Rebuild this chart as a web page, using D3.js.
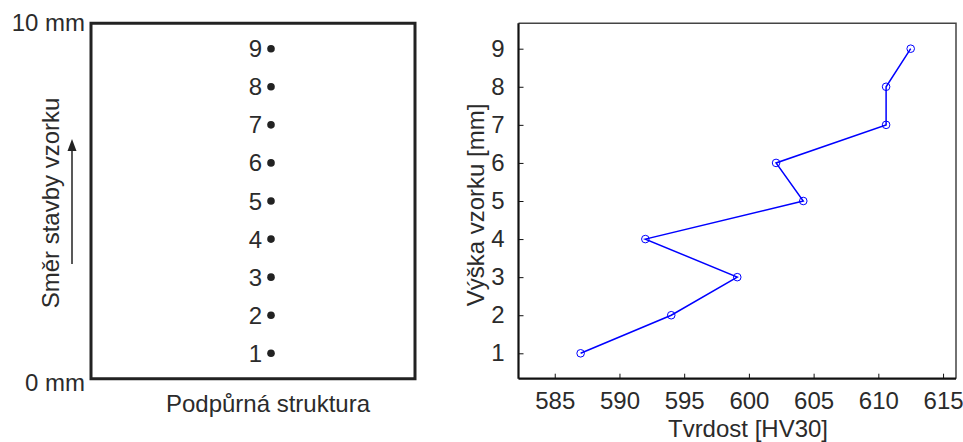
<!DOCTYPE html>
<html>
<head>
<meta charset="utf-8">
<script src="https://cdn.jsdelivr.net/npm/d3@7"></script>
<style>
  body { margin: 0; background: #fff; }
  text { font-family: "Liberation Sans", Arial, sans-serif; fill: #2b2b2b; }
</style>
</head>
<body>
<svg id="chart" width="963" height="442"></svg>
<script>
// measurement positions (mm) and hardness values
const positions = [1, 2, 3, 4, 5, 6, 7, 8, 9]
const hardness = [587, 594, 599.1, 592, 604.2, 602.1, 610.6, 610.6, 612.5]
const xTicks = [585, 590, 595, 600, 605, 610, 615]
const yTicks = [1, 2, 3, 4, 5, 6, 7, 8, 9]

const svg = d3.select('#chart')
const boxTop = 23.3, boxBottom = 378.7
const fs = '24px'

// shared vertical scale
const y = d3.scaleLinear().domain([0.333, 9.667]).range([boxBottom, boxTop])

// ---- left panel: sample sketch ----
const left = svg.append('g')
const boxL = 91, boxR = 415
left.append('path')
  .attr('d', `M${boxL},${boxBottom}V${boxTop}H${boxR}V${boxBottom}Z`)
  .attr('fill', 'none')
  .attr('stroke', '#222')
  .attr('stroke-width', 3)

left.append('text').attr('x', 85).attr('y', boxTop + 8)
  .attr('text-anchor', 'end').style('font-size', fs).text('10 mm')
left.append('text').attr('x', 85).attr('y', boxBottom + 12)
  .attr('text-anchor', 'end').style('font-size', fs).text('0 mm')

const dotX = 271
left.selectAll('circle.pt').data(positions).enter()
  .append('circle')
  .attr('class', 'pt')
  .attr('cx', dotX)
  .attr('cy', d => y(d))
  .attr('r', 3.8)
  .attr('fill', '#222')
left.selectAll('text.pt').data(positions).enter()
  .append('text')
  .attr('class', 'pt')
  .attr('x', dotX - 9)
  .attr('y', d => y(d) + 8.5)
  .attr('text-anchor', 'end')
  .style('font-size', fs)
  .text(d => d)

left.append('text')
  .attr('transform', `translate(59,203) rotate(-90)`)
  .attr('text-anchor', 'middle')
  .style('font-size', fs)
  .text('Směr stavby vzorku')

// arrow
left.append('line')
  .attr('x1', 72).attr('x2', 72).attr('y1', 264).attr('y2', 146)
  .attr('stroke', '#222').attr('stroke-width', 1.5)
left.append('path')
  .attr('d', 'M72,139L67.5,151L76.5,151Z')
  .attr('fill', '#222')

left.append('text').attr('x', 268).attr('y', 412)
  .attr('text-anchor', 'middle').style('font-size', fs).text('Podpůrná struktura')

// ---- right panel: hardness profile ----
const plotL = 518.5, plotR = 956
const x = d3.scaleLinear().domain([582.2, 616]).range([plotL, plotR])
const right = svg.append('g')

// frame (top/right)
right.append('path')
  .attr('d', `M${plotL},${boxTop}H${plotR}V${boxBottom}`)
  .attr('fill', 'none').attr('stroke', '#444').attr('stroke-width', 1.5)

const xAxis = d3.axisBottom(x).tickValues(xTicks).tickSize(-5).tickPadding(13).tickFormat(d3.format('d'))
const gx = right.append('g').attr('transform', `translate(0,${boxBottom})`).call(xAxis)
const yAxis = d3.axisLeft(y).tickValues(yTicks).tickSize(-5).tickPadding(14).tickFormat(d3.format('d'))
const gy = right.append('g').attr('transform', `translate(${plotL},0)`).call(yAxis)

for (const g of [gx, gy]) {
  g.select('.domain').attr('stroke', '#111').attr('stroke-width', 2.2)
  g.selectAll('.tick line').attr('stroke', '#111').attr('stroke-width', 1)
  g.selectAll('.tick text').style('font-size', fs).style('font-family', '"Liberation Sans", Arial, sans-serif').attr('fill', '#2b2b2b')
}
// trim the domain path to the plotting box
gx.select('.domain').attr('d', `M${plotL},0H${plotR}`)
gy.select('.domain').attr('d', `M0,${boxBottom}V${boxTop}`)

const pts = positions.map((p, i) => ({ p, h: hardness[i] }))
const line = d3.line().x(d => x(d.h)).y(d => y(d.p))
right.append('path')
  .datum(pts)
  .attr('d', line)
  .attr('fill', 'none')
  .attr('stroke', '#0000ff')
  .attr('stroke-width', 1.5)
right.selectAll('circle.m').data(pts).enter()
  .append('circle')
  .attr('class', 'm')
  .attr('cx', d => x(d.h))
  .attr('cy', d => y(d.p))
  .attr('r', 3.8)
  .attr('fill', 'none')
  .attr('stroke', '#0000ff')
  .attr('stroke-width', 1)

right.append('text').attr('x', 748).attr('y', 437)
  .attr('text-anchor', 'middle').style('font-size', fs).text('Tvrdost [HV30]')
right.append('text')
  .attr('transform', `translate(484,205) rotate(-90)`)
  .attr('text-anchor', 'middle')
  .style('font-size', fs)
  .text('Výška vzorku [mm]')
</script>
</body>
</html>
